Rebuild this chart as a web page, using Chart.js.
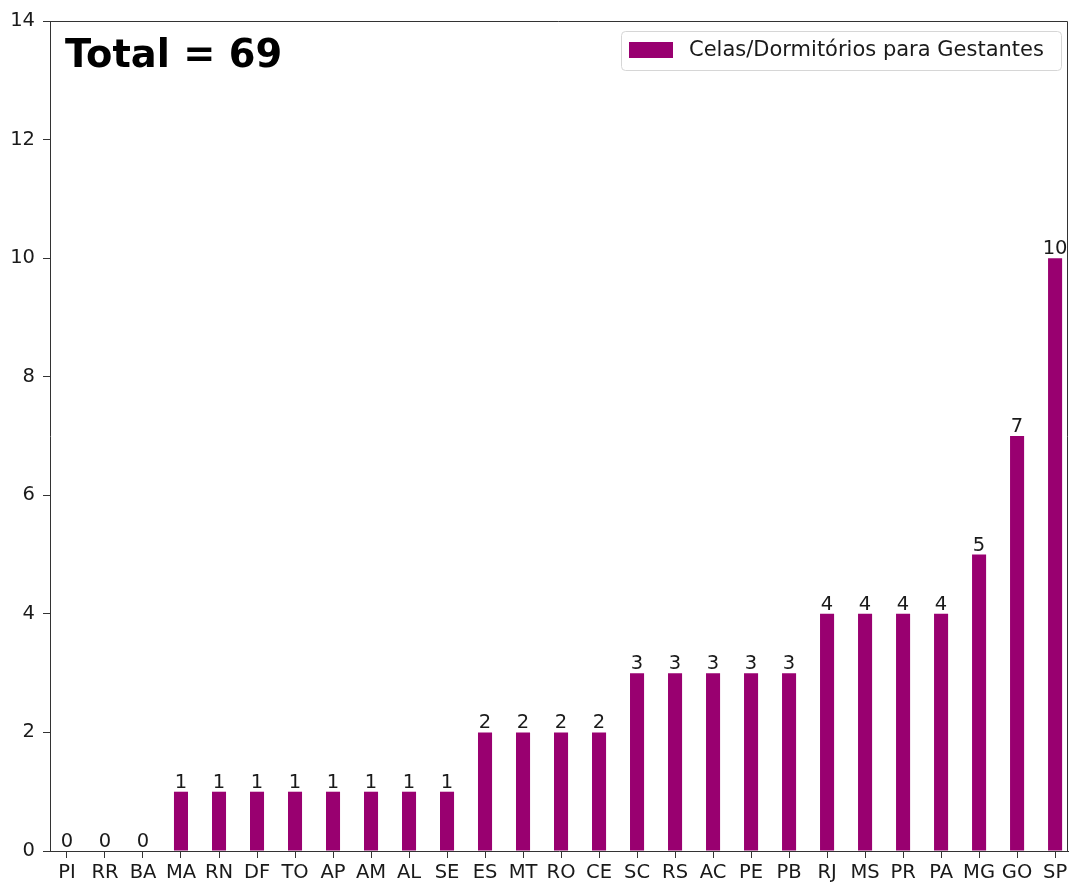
<!DOCTYPE html>
<html>
<head>
<meta charset="utf-8">
<script src="https://cdn.jsdelivr.net/npm/chart.js@4/dist/chart.umd.min.js"></script>
<style>
  html, body { margin: 0; padding: 0; background: #fff; }
  canvas { display: block; }
</style>
</head>
<body>
<canvas id="gestantesChart" width="1071" height="884"></canvas>
<script>
// data
const states = ['PI', 'RR', 'BA', 'MA', 'RN', 'DF', 'TO', 'AP', 'AM', 'AL', 'SE', 'ES', 'MT', 'RO',
                'CE', 'SC', 'RS', 'AC', 'PE', 'PB', 'RJ', 'MS', 'PR', 'PA', 'MG', 'GO', 'SP'];
const celas = [0, 0, 0, 1, 1, 1, 1, 1, 1, 1, 1, 2, 2, 2, 2, 3, 3, 3, 3, 3, 4, 4, 4, 4, 5, 7, 10];
const yTicks = [0, 2, 4, 6, 8, 10, 12, 14];
const seriesLabel = 'Celas/Dormitórios para Gestantes';
const totalText = 'Total = ' + celas.reduce((a, b) => a + b, 0);

const FONT = '"DejaVu Sans", Verdana, sans-serif';
const BAR_COLOR = '#990070';
const TEXT_COLOR = '#1a1a1a';

// box frame, value labels, total text and legend
const extras = {
    id: 'extras',
    afterDatasetsDraw(chart) {
        const ctx = chart.ctx;
        const area = chart.chartArea;
        const meta = chart.getDatasetMeta(0);
        ctx.save();

        // value labels above the bars
        ctx.fillStyle = TEXT_COLOR;
        ctx.font = '19.5px ' + FONT;
        ctx.textAlign = 'center';
        ctx.textBaseline = 'alphabetic';
        meta.data.forEach((bar, i) => {
            ctx.fillText(String(celas[i]), bar.x, bar.y - 4);
        });

        // top and right spines
        ctx.strokeStyle = '#333';
        ctx.lineWidth = 1;
        ctx.beginPath();
        ctx.moveTo(area.left, area.top + 0.5);
        ctx.lineTo(area.right - 0.5, area.top + 0.5);
        ctx.lineTo(area.right - 0.5, area.bottom);
        ctx.stroke();

        // total
        ctx.fillStyle = '#000';
        ctx.font = 'bold 38.4px ' + FONT;
        ctx.textAlign = 'left';
        ctx.fillText(totalText, 65, 67);

        // legend
        const ds = chart.data.datasets[0];
        const lx = 621, ly = 31, lw = 440, lh = 39;
        ctx.fillStyle = 'rgba(255,255,255,0.8)';
        ctx.strokeStyle = '#d6d6d6';
        ctx.beginPath();
        ctx.roundRect(lx + 0.5, ly + 0.5, lw, lh, 4);
        ctx.fill();
        ctx.stroke();
        ctx.fillStyle = ds.backgroundColor;
        ctx.fillRect(lx + 8, ly + 11, 44, 16);
        ctx.fillStyle = TEXT_COLOR;
        ctx.font = '21px ' + FONT;
        ctx.textBaseline = 'middle';
        ctx.fillText(ds.label, lx + 68, ly + 20);

        ctx.restore();
    }
};

new Chart(document.getElementById('gestantesChart'), {
    type: 'bar',
    data: {
        labels: states,
        datasets: [{
            label: seriesLabel,
            data: celas.map((v, i) => ({ x: i, y: v })),
            backgroundColor: BAR_COLOR,
            borderWidth: 0,
            barPercentage: 0.37,
            categoryPercentage: 1.0
        }]
    },
    options: {
        responsive: false,
        animation: false,
        layout: { padding: { top: 21, right: 3, left: 0, bottom: 0 } },
        plugins: {
            legend: { display: false },
            tooltip: { enabled: false }
        },
        scales: {
            x: {
                type: 'linear',
                offset: false,
                min: -0.447,
                max: 26.34,
                afterBuildTicks(scale) { scale.ticks = states.map((s, i) => ({ value: i })); },
                grid: { display: true, offset: false, drawOnChartArea: false, drawTicks: true, tickLength: 7, color: '#333' },
                border: { display: true, color: '#333', width: 1 },
                ticks: {
                    color: TEXT_COLOR,
                    font: { family: FONT, size: 19.5 },
                    padding: 3,
                    maxRotation: 0,
                    autoSkip: false,
                    callback: (v) => states[v]
                },
                afterFit(scale) { scale.height = 33; }
            },
            y: {
                min: 0,
                max: 14,
                afterBuildTicks(scale) { scale.ticks = yTicks.map(v => ({ value: v })); },
                grid: { display: true, drawOnChartArea: false, drawTicks: true, tickLength: 7, color: '#333' },
                border: { display: true, color: '#333', width: 1 },
                ticks: {
                    color: TEXT_COLOR,
                    font: { family: FONT, size: 19.5 },
                    padding: 8
                },
                afterFit(scale) { scale.width = 50; }
            }
        }
    },
    plugins: [extras]
});
</script>
</body>
</html>
